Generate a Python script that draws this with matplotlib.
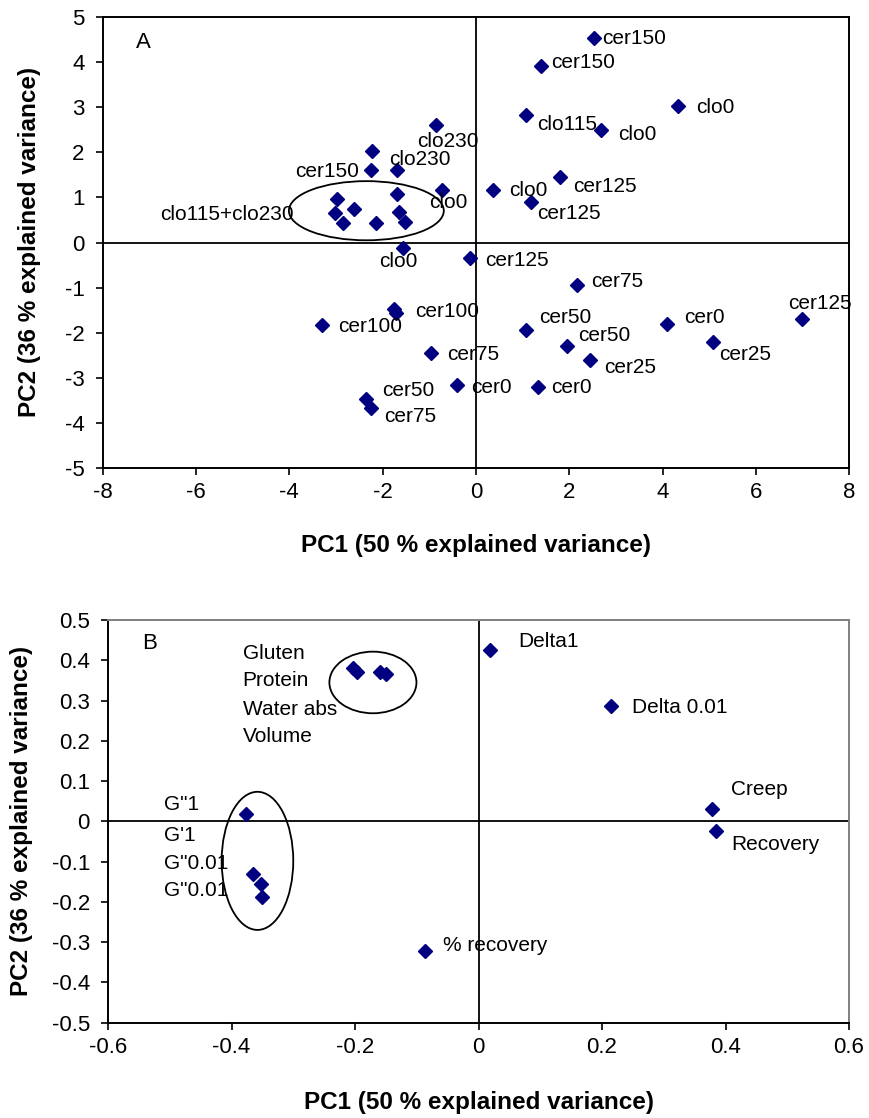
import matplotlib
matplotlib.use("Agg")
import matplotlib.pyplot as plt
from matplotlib.patches import Ellipse
from matplotlib.ticker import FuncFormatter, MultipleLocator

plt.rcParams['font.family'] = ['Liberation Sans', 'DejaVu Sans']
plt.rcParams['axes.unicode_minus'] = False

NAVY = '#000080'

# Panel A: sample scores
score_pc1 = [-0.85, -2.22, -2.24, -1.70, -0.72,
             -2.98, -3.02, -2.84, -2.61, -2.14, -1.70, -1.65, -1.52,
             -1.57, -0.12,
             2.52, 1.40, 4.34, 1.08, 2.67, 1.81, 0.36, 1.17,
             -1.76, -1.72, -3.29, -0.97, -0.40, -2.35, -2.24,
             2.17, 1.08, 1.95, 2.45, 4.09, 5.09, 6.99, 1.32]
score_pc2 = [2.60, 2.03, 1.61, 1.61, 1.17,
             0.96, 0.65, 0.43, 0.74, 0.43, 1.08, 0.67, 0.46,
             -0.13, -0.34,
             4.53, 3.90, 3.02, 2.82, 2.49, 1.46, 1.16, 0.90,
             -1.48, -1.57, -1.83, -2.45, -3.16, -3.46, -3.66,
             -0.95, -1.94, -2.28, -2.61, -1.81, -2.20, -1.70, -3.19]

score_labels = ['clo230', 'clo230', 'cer150', 'clo115+clo230', 'clo0', 'clo0',
                'cer150', 'cer150', 'clo0', 'clo115', 'clo0', 'cer125', 'clo0',
                'cer125', 'cer125', 'cer75', 'cer50', 'cer50', 'cer25', 'cer0',
                'cer25', 'cer125', 'cer0', 'cer0', 'cer100', 'cer100', 'cer75',
                'cer50', 'cer75']
score_label_x = [-1.27, -1.87, -3.88, -6.76, -1.01, -2.08,
                 2.70, 1.61, 4.72, 1.30, 3.04, 2.09, 0.70,
                 1.31, 0.19, 2.47, 1.36, 2.18, 2.75, 4.46,
                 5.21, 6.70, 1.62, -0.10, -1.30, -2.96, -0.62,
                 -2.01, -1.96]
score_label_y = [2.23, 1.84, 1.57, 0.63, 0.88, -0.41,
                 4.51, 3.99, 3.00, 2.61, 2.40, 1.25, 1.16,
                 0.65, -0.39, -0.87, -1.65, -2.06, -2.76, -1.65,
                 -2.47, -1.35, -3.20, -3.20, -1.52, -1.85, -2.47,
                 -3.27, -3.86]

# Panel B: variable loadings
load_pc1 = [-0.203, -0.196, -0.160, -0.150,
            -0.377, -0.366, -0.353, -0.350,
            -0.086, 0.018, 0.215, 0.378, 0.385]
load_pc2 = [0.380, 0.372, 0.372, 0.365,
            0.019, -0.131, -0.156, -0.188,
            -0.321, 0.426, 0.287, 0.031, -0.023]

load_labels = ['Gluten', 'Protein', 'Water abs', 'Volume',
               'G"1', "G'1", 'G"0.01', 'G"0.01',
               '% recovery', 'Delta1', 'Delta 0.01', 'Creep', 'Recovery']
load_label_x = [-0.382, -0.382, -0.382, -0.382,
                -0.510, -0.510, -0.510, -0.510,
                -0.058, 0.065, 0.248, 0.409, 0.409]
load_label_y = [0.417, 0.349, 0.279, 0.210,
                0.041, -0.034, -0.104, -0.172,
                -0.309, 0.446, 0.282, 0.080, -0.058]

TICK_FS = 16
LABEL_FS = 15
AXIS_FS = 17.5


def tick_fmt(v, pos):
    v = round(v, 6)
    if v == 0:
        return '0'
    return f"{v:g}"


fig = plt.figure(figsize=(8.69, 11.18), dpi=100)
axA = fig.add_axes([0.1182, 0.5811, 0.8591, 0.4039])
axB = fig.add_axes([0.1243, 0.0852, 0.8527, 0.3602])


def style_axes(ax, xpad):
    ax.tick_params(direction='out', length=5, width=1.2, labelsize=TICK_FS)
    ax.tick_params(axis='y', pad=8)
    ax.tick_params(axis='x', pad=5)
    ax.xaxis.set_major_formatter(FuncFormatter(tick_fmt))
    ax.yaxis.set_major_formatter(FuncFormatter(tick_fmt))
    ax.axhline(0, color='black', lw=1.3, zorder=1)
    ax.axvline(0, color='black', lw=1.3, zorder=1)
    ax.set_xlabel('PC1 (50 % explained variance)', fontsize=AXIS_FS,
                  fontweight='bold', labelpad=xpad)
    ax.set_ylabel('PC2 (36 % explained variance)', fontsize=AXIS_FS,
                  fontweight='bold')


# --- A: scores ---
axA.plot(score_pc1, score_pc2, 'D', color=NAVY, ms=7, zorder=3)
for t, x, y in zip(score_labels, score_label_x, score_label_y):
    axA.text(x, y, t, fontsize=LABEL_FS, ha='left', va='center', zorder=4)
axA.add_patch(Ellipse((-2.35, 0.705), 3.32, 1.31, fill=False,
                      edgecolor='black', lw=1.3, zorder=2))
axA.text(-7.29, 4.42, 'A', fontsize=16, ha='left', va='center')
axA.set_xlim(-8, 8)
axA.set_ylim(-5, 5)
axA.xaxis.set_major_locator(MultipleLocator(2))
axA.yaxis.set_major_locator(MultipleLocator(1))
for s in axA.spines.values():
    s.set_linewidth(1.4)
style_axes(axA, xpad=22)
axA.yaxis.set_label_coords(30 / 869, 1 - 242 / 1118, transform=fig.transFigure)
axA.yaxis.label.set_va('center')

# --- B: loadings ---
axB.plot(load_pc1, load_pc2, 'D', color=NAVY, ms=7, zorder=3)
for t, x, y in zip(load_labels, load_label_x, load_label_y):
    axB.text(x, y, t, fontsize=LABEL_FS, ha='left', va='center', zorder=4)
axB.add_patch(Ellipse((-0.171, 0.345), 0.141, 0.153, fill=False,
                      edgecolor='black', lw=1.3, zorder=2))
axB.add_patch(Ellipse((-0.358, -0.098), 0.116, 0.343, fill=False,
                      edgecolor='black', lw=1.3, zorder=2))
axB.text(-0.544, 0.442, 'B', fontsize=16, ha='left', va='center')
axB.set_xlim(-0.6, 0.6)
axB.set_ylim(-0.5, 0.5)
axB.xaxis.set_major_locator(MultipleLocator(0.2))
axB.yaxis.set_major_locator(MultipleLocator(0.1))
for side in ['left', 'bottom']:
    axB.spines[side].set_linewidth(1.4)
for side in ['top', 'right']:
    axB.spines[side].set_color('#808080')
    axB.spines[side].set_linewidth(1.4)
style_axes(axB, xpad=24)
axB.yaxis.set_label_coords(22 / 869, 1 - 821 / 1118, transform=fig.transFigure)
axB.yaxis.label.set_va('center')

fig.savefig('out.png', dpi=100)
